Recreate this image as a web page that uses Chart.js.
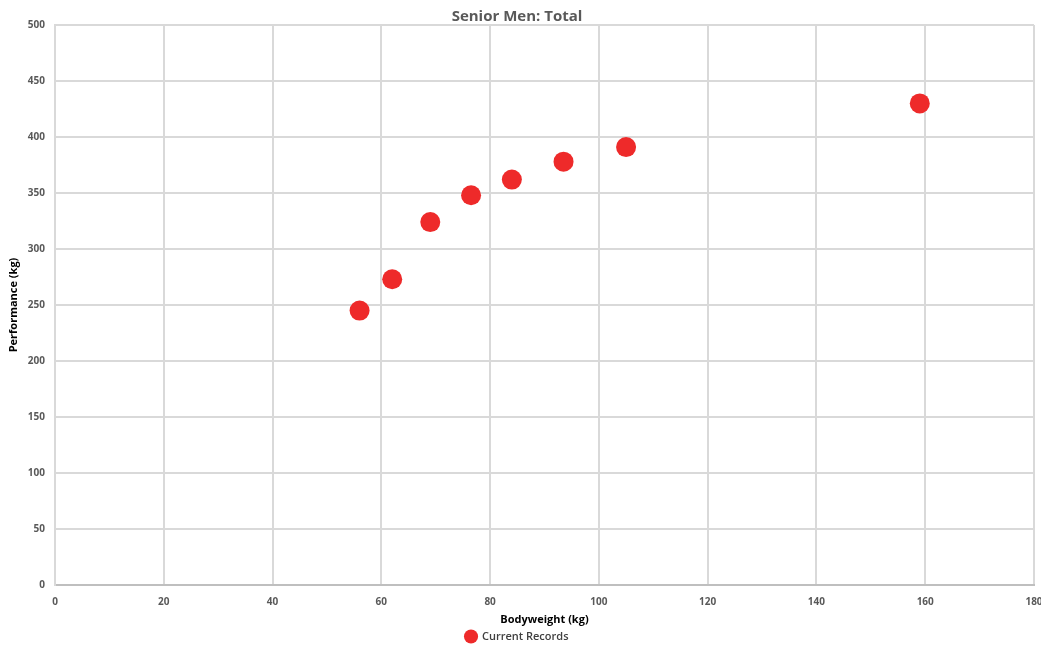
<!DOCTYPE html>
<html>
<head>
<meta charset="utf-8">
<script src="https://cdn.jsdelivr.net/npm/chart.js@4/dist/chart.umd.min.js"></script>
<style>
  html, body { margin: 0; padding: 0; background: #ffffff; }
  #wrap { width: 1041px; height: 645px; position: relative; }
</style>
</head>
<body>
<div id="wrap"><canvas id="chart"></canvas></div>
<script>
// Senior men's total records by bodyweight
const bodyweights = [56, 62, 69, 76.5, 84, 93.5, 105, 159];
const totals = [245, 273, 324, 348, 362, 378, 391, 430];
const seriesName = 'Current Records';
const chartTitle = 'Senior Men: Total';
const xTitle = 'Bodyweight (kg)';
const yTitle = 'Performance (kg)';

const points = bodyweights.map((x, i) => ({ x: x, y: totals[i] }));

const FONT = "'Open Sans', 'Liberation Sans', sans-serif";
const GRID = '#d9d9d9';

// keep the legend strip compact at the very bottom
const compactLegend = {
  id: 'compactLegend',
  afterInit(chart) {
    const lg = chart.legend;
    if (!lg) return;
    const fit = lg.fit.bind(lg);
    lg.fit = function () {
      fit();
      this.height = 16;
    };
  }
};

new Chart(document.getElementById('chart'), {
  type: 'scatter',
  data: {
    datasets: [{
      label: seriesName,
      data: points,
      backgroundColor: '#ee2a2a',
      borderColor: '#ee2a2a',
      borderWidth: 0,
      pointRadius: 10,
      pointHoverRadius: 10
    }]
  },
  plugins: [compactLegend],
  options: {
    responsive: true,
    maintainAspectRatio: false,
    animation: false,
    layout: { autoPadding: false, padding: { left: 0, right: 7, top: 0, bottom: 0 } },
    plugins: {
      title: {
        display: true,
        text: chartTitle,
        color: '#595959',
        font: { family: FONT, size: 15, weight: 'bold', lineHeight: 1.1 },
        padding: { top: 8, bottom: 0.5 }
      },
      legend: {
        display: true,
        position: 'bottom',
        labels: {
          usePointStyle: true,
          pointStyle: 'circle',
          boxHeight: 10,
          padding: 2,
          color: '#404040',
          font: { family: FONT, size: 11, weight: '600' }
        }
      },
      tooltip: { enabled: false }
    },
    scales: {
      x: {
        type: 'linear',
        min: 0,
        max: 180,
        ticks: {
          stepSize: 20,
          padding: 11,
          color: '#595959',
          font: { family: FONT, size: 10, weight: 'bold' }
        },
        grid: { color: GRID, lineWidth: 2, drawTicks: false },
        border: { color: '#bfbfbf', width: 2 },
        title: {
          display: true,
          text: xTitle,
          color: '#000000',
          font: { family: FONT, size: 11, weight: 'bold' },
          padding: { top: 2, bottom: 3 }
        },
        afterFit: (s) => { s.height = 44; s.paddingLeft = 0; s.paddingRight = 0; }
      },
      y: {
        type: 'linear',
        min: 0,
        max: 500,
        ticks: {
          stepSize: 50,
          padding: 10,
          color: '#595959',
          font: { family: FONT, size: 10, weight: 'bold' }
        },
        grid: { color: GRID, lineWidth: 2, drawTicks: false },
        border: { color: GRID, width: 2 },
        title: {
          display: true,
          text: yTitle,
          color: '#000000',
          font: { family: FONT, size: 11, weight: 'bold' },
          padding: { top: 7, bottom: 2 }
        },
        afterFit: (s) => { s.width = 55; s.paddingTop = 0; s.paddingBottom = 0; }
      }
    }
  }
});
</script>
</body>
</html>
